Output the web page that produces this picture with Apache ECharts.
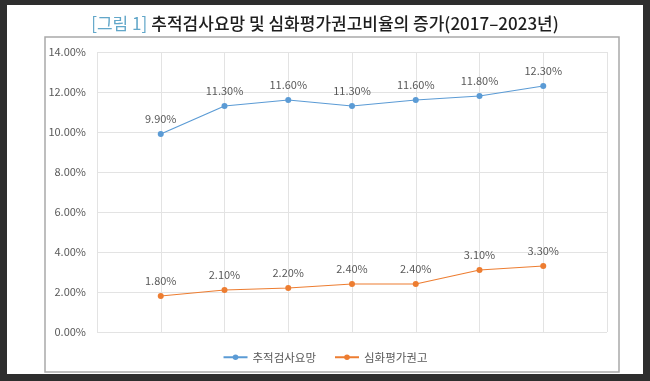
<!DOCTYPE html>
<html>
<head>
<meta charset="utf-8">
<script src="https://cdn.jsdelivr.net/npm/echarts@6/dist/echarts.min.js"></script>
<style>
html,body{margin:0;padding:0;background:#2e2e2e;}
#c{width:650px;height:381px;}
</style>
</head>
<body>
<div id="c"></div>
<script>
// Data
var years = ['2017', '2018', '2019', '2020', '2021', '2022', '2023'];
var followUp = [9.9, 11.3, 11.6, 11.3, 11.6, 11.8, 12.3];      // 추적검사요망
var deepEval = [1.8, 2.1, 2.2, 2.4, 2.4, 3.1, 3.3];           // 심화평가권고
var seriesNames = ['추적검사요망', '심화평가권고'];
var yTicks = [0, 2, 4, 6, 8, 10, 12, 14];

// Axis categories padded with an empty slot on each side (as in the source chart)
var cats = [''].concat(years).concat(['']);
function pad(arr) { return [null].concat(arr).concat([null]); }

var font = '"Noto Sans CJK KR", "Noto Sans", sans-serif';
var chart = echarts.init(document.getElementById('c'), null, {renderer: 'canvas'});
chart.setOption({
  backgroundColor: '#2e2e2e',
  animation: false,
  textStyle: {fontFamily: font},
  graphic: [
    {type: 'rect', z: -10, shape: {x: 7, y: 5, width: 636, height: 369}, style: {fill: '#ffffff'}},
    {type: 'rect', z: -9, shape: {x: 45, y: 37, width: 574, height: 335}, style: {fill: 'none', stroke: '#a9a9a9', lineWidth: 1.5}}
  ],
  title: {
    text: '{a|[그림 1]} {b|추적검사요망 및 심화평가권고비율의 증가(2017–2023년)}',
    left: 'center',
    top: 10,
    textStyle: {
      rich: {
        a: {color: '#62a7c9', fontSize: 17, fontFamily: font, fontWeight: 'normal'},
        b: {color: '#1e1e1e', fontSize: 17, fontFamily: font, fontWeight: 500}
      }
    }
  },
  grid: {left: 97, right: 43, top: 52, bottom: 49, containLabel: false},
  legend: {
    data: seriesNames,
    bottom: 13,
    left: 'center',
    itemWidth: 24,
    itemHeight: 7,
    itemGap: 18,
    textStyle: {color: '#595959', fontSize: 11.5, fontFamily: font}
  },
  xAxis: {
    type: 'category',
    data: cats,
    boundaryGap: false,
    axisLine: {show: false},
    axisTick: {show: false},
    axisLabel: {show: false},
    splitLine: {show: true, lineStyle: {color: '#e3e3e3', width: 1}}
  },
  yAxis: {
    type: 'value',
    min: yTicks[0],
    max: yTicks[yTicks.length - 1],
    interval: 2,
    axisLine: {show: false},
    axisTick: {show: false},
    axisLabel: {
      color: '#595959', fontSize: 11, margin: 11, fontFamily: font,
      formatter: function (v) { return v.toFixed(2) + '%'; }
    },
    splitLine: {lineStyle: {color: '#e3e3e3', width: 1}}
  },
  series: [
    {
      name: seriesNames[0],
      type: 'line',
      data: pad(followUp),
      color: '#5b9bd5',
      symbol: 'circle',
      symbolSize: 6,
      lineStyle: {width: 1.2},
      label: {
        show: true, position: 'top', distance: 7, color: '#595959', fontSize: 11,
        formatter: function (p) { return p.value.toFixed(2) + '%'; }
      }
    },
    {
      name: seriesNames[1],
      type: 'line',
      data: pad(deepEval),
      color: '#ed7d31',
      symbol: 'circle',
      symbolSize: 6,
      lineStyle: {width: 1.2},
      label: {
        show: true, position: 'top', distance: 7, color: '#595959', fontSize: 11,
        formatter: function (p) { return p.value.toFixed(2) + '%'; }
      }
    }
  ]
});
</script>
</body>
</html>
